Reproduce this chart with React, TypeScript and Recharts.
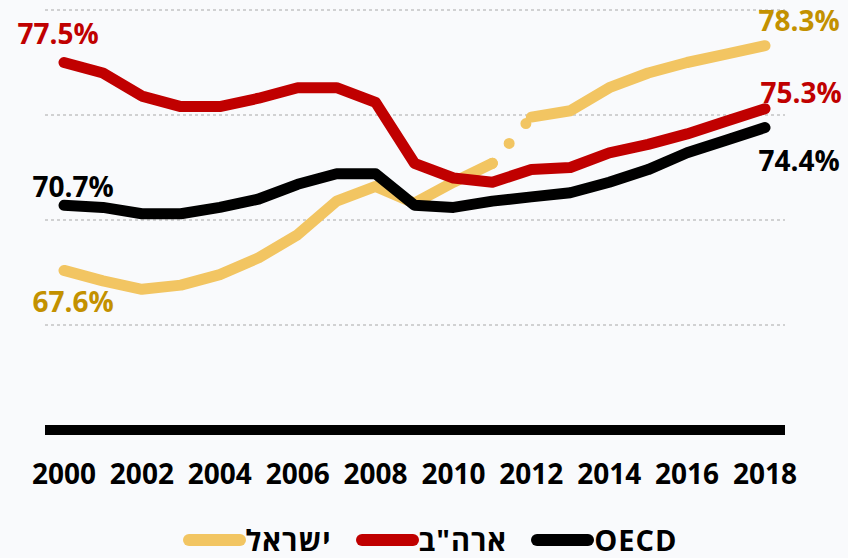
import { LineChart, Line, XAxis, YAxis, CartesianGrid, ReferenceLine, Legend } from 'recharts'

const YEARS = [2000, 2001, 2002, 2003, 2004, 2005, 2006, 2007, 2008, 2009, 2010, 2011, 2012, 2013, 2014, 2015, 2016, 2017, 2018]
const ISRAEL = [67.6, 67.1, 66.7, 66.9, 67.4, 68.2, 69.3, 70.9, 71.6, 70.8, 71.8, 72.7, 74.9, 75.2, 76.3, 77.0, 77.5, 77.9, 78.3]
const USA = [77.5, 77.0, 75.9, 75.4, 75.4, 75.8, 76.3, 76.3, 75.6, 72.7, 72.0, 71.8, 72.4, 72.5, 73.2, 73.6, 74.1, 74.7, 75.3]
const OECD = [70.7, 70.6, 70.3, 70.3, 70.6, 71.0, 71.7, 72.2, 72.2, 70.7, 70.6, 70.9, 71.1, 71.3, 71.8, 72.4, 73.2, 73.8, 74.4]
// Israel series breaks between these two years
const BREAK_FROM = 2011
const BREAK_TO = 2012

const X_TICKS = [2000, 2002, 2004, 2006, 2008, 2010, 2012, 2014, 2016, 2018]
const Y_TICKS = [60, 65, 70, 75, 80]

const LEGEND_ITEMS = [
  { name: 'ישראל', color: '#f2c562' },
  { name: 'ארה"ב', color: '#c00000' },
  { name: 'OECD', color: '#000000' },
]

const YELLOW = '#f2c562'
const GOLD = '#c39100'
const RED = '#c00000'
const BLACK = '#000000'
const BG = '#f9fafc'
const LABEL_FONT = '"Open Sans", "Noto Sans", sans-serif'
const TICK_FONT = '"Open Sans", "Noto Sans", sans-serif'
const LEGEND_FONT = '"Open Sans", "DejaVu Sans", sans-serif'

const data = YEARS.map((year, i) => ({
  year,
  israelPre: year <= BREAK_FROM ? ISRAEL[i] : null,
  israelGap: year === BREAK_FROM || year === BREAK_TO ? ISRAEL[i] : null,
  israelPost: year >= BREAK_TO ? ISRAEL[i] : null,
  usa: USA[i],
  oecd: OECD[i],
}))

type LabelSpec = { index: number; dx: number; dy: number }

function makeLabel(color: string, specs: LabelSpec[]) {
  return (props: any) => {
    const { x, y, index, value } = props
    const spec = specs.find(s => s.index === index)
    if (!spec || value == null) return null
    return (
      <text
        key={`lbl-${index}`}
        x={x + spec.dx}
        y={y + spec.dy}
        textAnchor="middle"
        fill={color}
        fontFamily={LABEL_FONT}
        fontWeight="bold"
        fontSize={28}
      >
        {Number(value).toFixed(1)}%
      </text>
    )
  }
}

function YearTick({ x, y, payload }: any) {
  return (
    <text x={x} y={y + 46} textAnchor="middle" fill="#000" fontFamily={TICK_FONT} fontWeight="bold" fontSize={28}>
      {payload.value}
    </text>
  )
}

function LegendContent() {
  return (
    <div
      style={{
        display: 'flex',
        justifyContent: 'center',
        alignItems: 'center',
        height: 30,
        lineHeight: '30px',
        fontFamily: LEGEND_FONT,
        fontWeight: 'bold',
        fontSize: 29,
        color: '#000',
      }}
    >
      {LEGEND_ITEMS.map((item, i) => (
        <div key={item.name} style={{ display: 'flex', alignItems: 'center', marginLeft: i === 0 ? 0 : 24 }}>
          <span style={{ display: 'inline-block', width: 63, height: 12, borderRadius: 6, background: item.color }} />
          <span style={{ letterSpacing: 1 }}>{item.name}</span>
        </div>
      ))}
    </div>
  )
}

export default function App() {
  return (
    <div style={{ position: 'fixed', top: 0, left: 0, width: 848, height: 558, background: BG, overflow: 'hidden' }}>
      <LineChart width={848} height={558} data={data} margin={{ top: 10, right: 63, left: 45, bottom: 0 }}>
        <CartesianGrid vertical={false} stroke="#a8a8a8" strokeDasharray="3 3" />
        <XAxis
          dataKey="year"
          type="number"
          domain={[2000, 2018]}
          ticks={X_TICKS}
          padding={{ left: 19, right: 20 }}
          axisLine={false}
          tickLine={false}
          height={98}
          tick={<YearTick />}
          interval={0}
        />
        <YAxis hide domain={[60, 80]} ticks={Y_TICKS} />
        <ReferenceLine y={60} stroke={BLACK} strokeWidth={10} />
        <Legend
          verticalAlign="bottom"
          content={<LegendContent />}
          wrapperStyle={{ left: 6, width: 848, bottom: 3 }}
        />
        <Line
          dataKey="israelPre"
          stroke={YELLOW}
          strokeWidth={11}
          strokeLinecap="round"
          strokeLinejoin="round"
          dot={false}
          activeDot={false}
          isAnimationActive={false}
          label={makeLabel(GOLD, [{ index: 0, dx: 9, dy: 42 }])}
        />
        <Line
          dataKey="israelGap"
          stroke={YELLOW}
          strokeWidth={11}
          strokeLinecap="round"
          strokeDasharray="0 26"
          dot={false}
          activeDot={false}
          isAnimationActive={false}
          legendType="none"
        />
        <Line
          dataKey="israelPost"
          stroke={YELLOW}
          strokeWidth={11}
          strokeLinecap="round"
          strokeLinejoin="round"
          dot={false}
          activeDot={false}
          isAnimationActive={false}
          label={makeLabel(GOLD, [{ index: 18, dx: 34, dy: -15 }])}
        />
        <Line
          dataKey="usa"
          stroke={RED}
          strokeWidth={11}
          strokeLinecap="round"
          strokeLinejoin="round"
          dot={false}
          activeDot={false}
          isAnimationActive={false}
          label={makeLabel(RED, [
            { index: 0, dx: -6, dy: -19 },
            { index: 18, dx: 36, dy: -6 },
          ])}
        />
        <Line
          dataKey="oecd"
          stroke={BLACK}
          strokeWidth={11}
          strokeLinecap="round"
          strokeLinejoin="round"
          dot={false}
          activeDot={false}
          isAnimationActive={false}
          label={makeLabel(BLACK, [
            { index: 0, dx: 9, dy: -8 },
            { index: 18, dx: 34, dy: 43 },
          ])}
        />
      </LineChart>
    </div>
  )
}
